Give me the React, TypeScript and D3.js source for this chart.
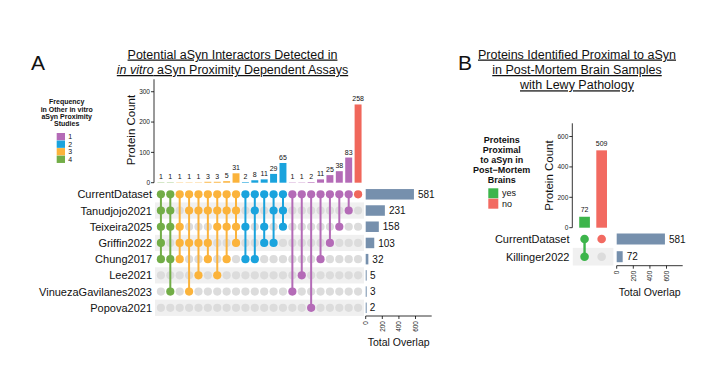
import React from 'react';
import * as d3 from 'd3';

// ---------- Data: panel A ----------
const setsA = ['CurrentDataset', 'Tanudjojo2021', 'Teixeira2025', 'Griffin2022', 'Chung2017', 'Lee2021', 'VinuezaGavilanes2023', 'Popova2021'];
const setSizesA = [581, 231, 158, 103, 32, 5, 3, 2];
const intersectionsA = [
  [0, 1, 2, 3, 4], [0, 1, 2, 4, 6],
  [0, 2, 3, 4], [0, 1, 3, 6], [0, 1, 3, 5], [0, 1, 3, 4], [0, 1, 2, 5], [0, 1, 2, 4], [0, 1, 2, 3],
  [0, 2, 4], [0, 1, 4], [0, 2, 3], [0, 1, 3], [0, 1, 2],
  [0, 6], [0, 5], [0, 7], [0, 4], [0, 3], [0, 2], [0, 1],
  [0],
];
const countsA = [1, 1, 1, 1, 1, 3, 3, 5, 31, 2, 8, 11, 29, 65, 1, 1, 2, 11, 25, 38, 83, 258];
const countTicksA = [0, 100, 200, 300];
const sizeTicks = [0, 200, 400, 600];
const legendA = ['1', '2', '3', '4'];
const legendTitleA = ['Frequency', 'in Other in vitro', 'aSyn Proximity', 'Studies'];

// ---------- Data: panel B ----------
const setsB = ['CurrentDataset', 'Killinger2022'];
const setSizesB = [581, 72];
const intersectionsB = [[0, 1], [0]];
const countsB = [72, 509];
const countTicksB = [0, 200, 400, 600];
const legendB = ['yes', 'no'];
const legendTitleB = ['Proteins', 'Proximal', 'to aSyn in', 'Post\u2212Mortem', 'Brains'];

// ---------- Styles ----------
const FONT = '"Liberation Sans", Arial, Helvetica, sans-serif';
const freqColor: Record<number, string> = { 4: '#72ad47', 3: '#fbb33b', 2: '#1aa3dd', 1: '#b46bb7', 0: '#f0675b' };
const bColor: Record<string, string> = { yes: '#3db54b', no: '#f26a61' };
const SET_BAR = '#7690ad';
const GRAY_DOT = '#dcdcdc';
const STRIPE = '#f0f0f0';

function UpSet(props: {
  sets: string[]; setSizes: number[]; inters: number[][]; counts: number[];
  colX: [number, number]; colPad: number; rowY: [number, number];
  countMax: number; countRange: [number, number]; countTicks: number[];
  sizeRange: [number, number]; sizeMax: number; sizeAxisY: number;
  colorOf: (i: number) => string; dotR: number; lineW: number; barH: number;
  labelX: number; axisX: number; pcX: number; pcY: number; labelOff: number;
}) {
  const p = props;
  const cols = p.counts.map((_, i) => i);
  const x = d3.scaleBand<number>().domain(cols).range(p.colX).padding(p.colPad);
  const y = d3.scaleBand<string>().domain(p.sets).range(p.rowY);
  const yc = d3.scaleLinear().domain([0, p.countMax]).range(p.countRange);
  const xs = d3.scaleLinear().domain([0, p.sizeMax]).range(p.sizeRange);
  const cx = (i: number) => (x(i) as number) + x.bandwidth() / 2;
  const cy = (s: string) => (y(s) as number) + y.bandwidth() / 2;
  const stripeX0 = p.colX[0];
  const stripeW = p.colX[1] - p.colX[0];
  return (
    <g>
      <line x1={p.axisX} x2={p.axisX} y1={p.countRange[0]} y2={p.countRange[1]} stroke="#000" strokeWidth={0.8} />
      {p.countTicks.map((t) => (
        <g key={t}>
          <line x1={p.axisX - 3} x2={p.axisX} y1={yc(t)} y2={yc(t)} stroke="#000" strokeWidth={0.8} />
          <text x={p.axisX - 4} y={yc(t) + 2.3} fontSize={6.5} textAnchor="end" fill="#222">{t}</text>
        </g>
      ))}
      <text transform={`translate(${p.pcX},${p.pcY}) rotate(-90)`} fontSize={11.5} textAnchor="middle" fill="#111">Protein Count</text>
      {p.counts.map((c, i) => (
        <g key={'b' + i}>
          <rect x={x(i)} y={yc(c)} width={x.bandwidth()} height={yc(0) - yc(c)} fill={p.colorOf(i)} />
          <text x={cx(i)} y={yc(c) - p.labelOff} fontSize={7} textAnchor="middle" fill="#111">{c}</text>
        </g>
      ))}
      {p.sets.map((s, r) => r % 2 === 1 ? (
        <rect key={'s' + s} x={stripeX0} y={y(s)} width={stripeW} height={y.bandwidth()} fill={STRIPE} />
      ) : null)}
      {p.sets.map((s) => (
        <text key={'l' + s} x={p.labelX} y={cy(s) + 4} fontSize={11} textAnchor="end" fill="#111">{s}</text>
      ))}
      {p.inters.map((mem, i) => (
        <g key={'d' + i}>
          {p.sets.map((s, r) => mem.includes(r) ? null : (
            <circle key={r} cx={cx(i)} cy={cy(s)} r={p.dotR} fill={GRAY_DOT} />
          ))}
          {mem.length > 1 && (
            <line x1={cx(i)} x2={cx(i)} y1={cy(p.sets[d3.min(mem) as number])} y2={cy(p.sets[d3.max(mem) as number])}
              stroke={p.colorOf(i)} strokeWidth={p.lineW} />
          )}
          {mem.map((r) => (
            <circle key={'a' + r} cx={cx(i)} cy={cy(p.sets[r])} r={p.dotR} fill={p.colorOf(i)} />
          ))}
        </g>
      ))}
      {p.sets.map((s, r) => (
        <g key={'z' + s}>
          <rect x={xs(0)} y={cy(s) - p.barH / 2} width={Math.max(xs(p.setSizes[r]) - xs(0), 1)} height={p.barH} fill={SET_BAR} />
          <text x={xs(p.setSizes[r]) + 4} y={cy(s) + 3.6} fontSize={10} fill="#111">{p.setSizes[r]}</text>
        </g>
      ))}
      <line x1={p.sizeRange[0]} x2={p.sizeRange[1]} y1={p.sizeAxisY} y2={p.sizeAxisY} stroke="#000" strokeWidth={0.8} />
      {sizeTicks.map((t) => (
        <g key={'t' + t}>
          <line x1={xs(t)} x2={xs(t)} y1={p.sizeAxisY} y2={p.sizeAxisY + 3} stroke="#000" strokeWidth={0.8} />
          <text transform={`translate(${xs(t) + 2.3},${p.sizeAxisY + 5}) rotate(-90)`} fontSize={6.5} textAnchor="end" fill="#222">{t}</text>
        </g>
      ))}
      <text x={(p.sizeRange[0] + p.sizeRange[1]) / 2} y={p.sizeAxisY + 30} fontSize={10.5} textAnchor="middle" fill="#111">Total Overlap</text>
    </g>
  );
}

export default function App() {
  const bx = 30; // horizontal placement of panel B body
  const by = 30; // vertical placement of panel B body
  return (
    <svg width={720} height={378} style={{ position: 'absolute', left: 0, top: 0, background: '#fff' }} fontFamily={FONT}>
      <rect x={0} y={0} width={720} height={378} fill="#fff" />
      {/* Panel A */}
      <text x={31} y={70} fontSize={21} fill="#111">A</text>
      <text x={232.5} y={58.5} fontSize={12.5} textAnchor="middle" textDecoration="underline" fill="#111">Potential aSyn Interactors Detected in</text>
      <text x={232.5} y={74} fontSize={12.5} textAnchor="middle" textDecoration="underline" fill="#111">
        <tspan fontStyle="italic">in vitro</tspan> aSyn Proximity Dependent Assays
      </text>
      {legendTitleA.map((t, i) => (
        <text key={t} x={66.7} y={104.2 + i * 7.3} fontSize={7} fontWeight="bold" textAnchor="middle" fill="#111">{t}</text>
      ))}
      {legendA.map((t, i) => (
        <g key={'la' + t}>
          <rect x={56.7} y={133 + i * 7.55} width={8.3} height={7.3} fill={freqColor[i + 1]} />
          <text x={68.3} y={139.2 + i * 7.55} fontSize={7} fill="#111">{t}</text>
        </g>
      ))}
      <UpSet
        sets={setsA} setSizes={setSizesA} inters={intersectionsA} counts={countsA}
        colX={[155, 364]} colPad={0.26} rowY={[186.2, 315.9]}
        countMax={341} countRange={[182.7, 79.3]} countTicks={countTicksA}
        sizeRange={[365.7, 431.7]} sizeMax={795} sizeAxisY={316}
        colorOf={(i) => freqColor[intersectionsA[i].length - 1]}
        dotR={4.1} lineW={2} barH={10.5}
        labelX={152} axisX={154} pcX={134.5} pcY={130} labelOff={3}
      />
      {/* Panel B */}
      <text x={458} y={70} fontSize={21} fill="#111">B</text>
      <text x={577} y={58.5} fontSize={12.5} textAnchor="middle" textDecoration="underline" fill="#111">Proteins Identified Proximal to aSyn</text>
      <text x={577} y={74} fontSize={12.5} textAnchor="middle" textDecoration="underline" fill="#111">in Post-Mortem Brain Samples</text>
      <text x={577} y={89.3} fontSize={12.5} textAnchor="middle" textDecoration="underline" fill="#111">with Lewy Pathology</text>
      {legendTitleB.map((t, i) => (
        <text key={t} x={471.7 + bx} y={113 + by + i * 10} fontSize={9} fontWeight="bold" textAnchor="middle" fill="#111">{t}</text>
      ))}
      {legendB.map((t, i) => (
        <g key={'lb' + t}>
          <rect x={458.3 + bx} y={158.3 + by + i * 10.4} width={10} height={10} fill={bColor[t]} />
          <text x={472 + bx} y={166.2 + by + i * 10.4} fontSize={9} fill="#111">{t}</text>
        </g>
      ))}
      <UpSet
        sets={setsB} setSizes={setSizesB} inters={intersectionsB} counts={countsB}
        colX={[542.8 + bx, 583.4 + bx]} colPad={0.375} rowY={[200.15 + by, 235.55 + by]}
        countMax={687} countRange={[197.7 + by, 93.3 + by]} countTicks={countTicksB}
        sizeRange={[586.7 + bx, 652.7 + bx]} sizeMax={795} sizeAxisY={235.7 + by}
        colorOf={(i) => bColor[legendB[i]]}
        dotR={4.3} lineW={2.4} barH={11}
        labelX={539.5 + bx} axisX={542.3 + bx} pcX={523 + bx} pcY={145.5 + by} labelOff={4.5}
      />
    </svg>
  );
}
